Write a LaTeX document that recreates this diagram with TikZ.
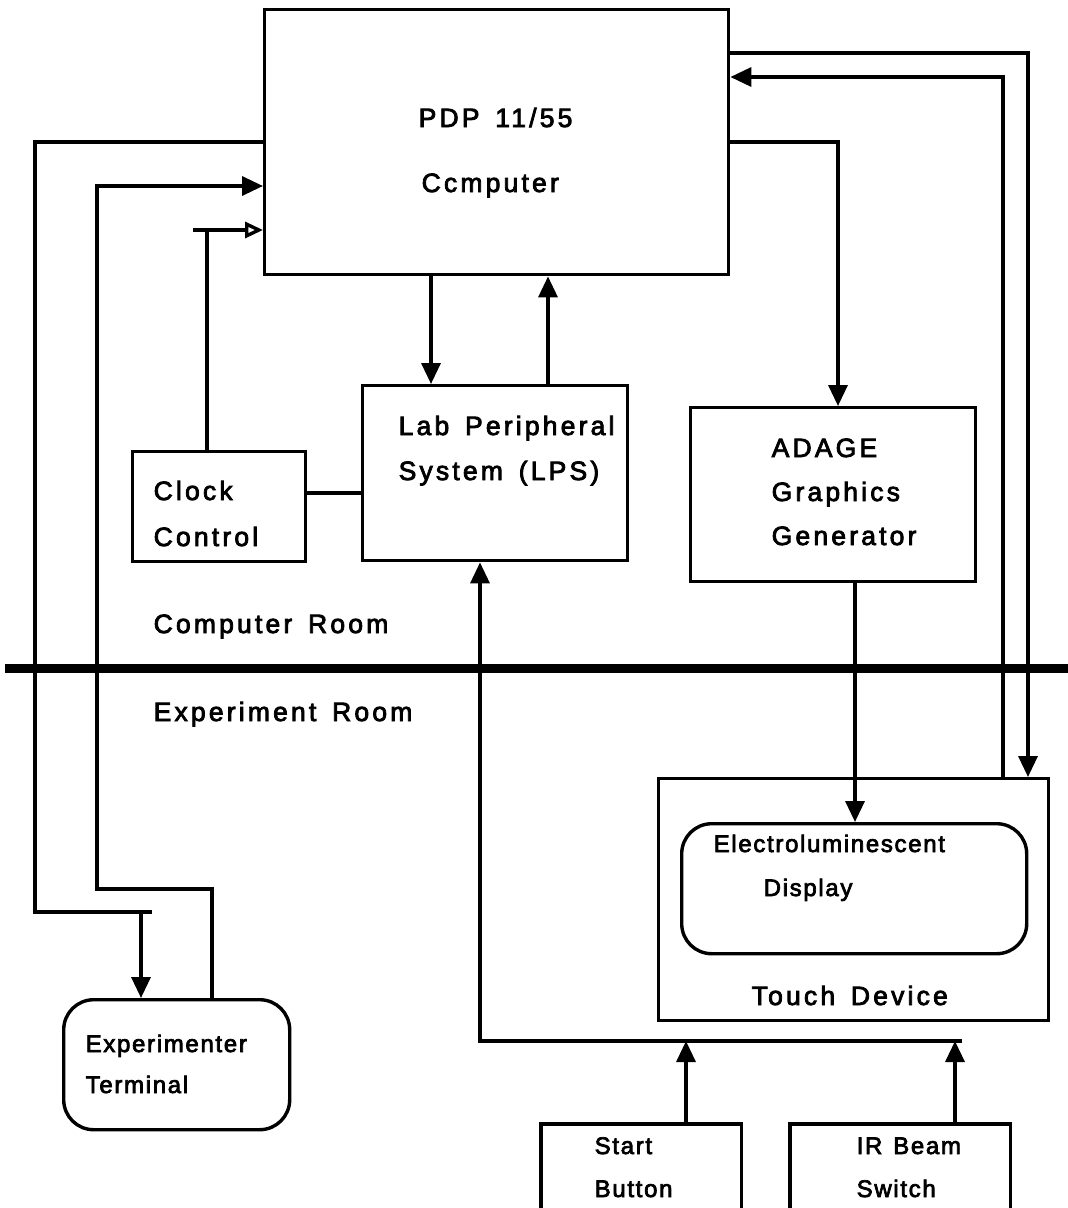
\documentclass[tikz,border=0pt]{standalone}
\usepackage{fontspec}
\setmainfont{Liberation Sans}
\newfontfamily\bigf[LetterSpace=12,WordSpace=1.5,FakeBold=3]{Liberation Sans}
\newfontfamily\smallf[LetterSpace=7,WordSpace=1.3,FakeBold=3]{Liberation Sans}
\usetikzlibrary{arrows.meta}
\begin{document}
\begin{tikzpicture}[x=1pt,y=-1pt,
  line width=3.4pt, line join=miter,
  box/.style={draw, rectangle, inner sep=0pt, anchor=north west},
  rbox/.style={draw, rectangle, rounded corners=30pt, inner sep=0pt, anchor=north west},
  ghost/.style={rectangle, inner sep=0pt, anchor=north west},
  arr/.style={-{Triangle[length=21pt,width=19pt]}},
  oarr/.style={-{Triangle[open,length=18pt,width=16pt]}},
  bigt/.style={anchor=base west, inner sep=0pt, font=\bigf\fontsize{26.5}{30}\selectfont},
  smt/.style={anchor=base west, inner sep=0pt, font=\smallf\fontsize{24}{28}\selectfont},
]
\useasboundingbox (0,0) rectangle (1068,1208);

% boxes
\node[box, minimum width=464pt, minimum height=265pt] (pdp) at (263,8) {};
\node[box, minimum width=265pt, minimum height=175pt] (lps) at (361,384) {};
\node[box, minimum width=173pt, minimum height=110pt] (clock) at (131,450) {};
\node[box, minimum width=285pt, minimum height=174pt] (adage) at (689,406) {};
\node[box, minimum width=390pt, minimum height=242pt] (touch) at (657,777) {};
\node[rbox, minimum width=345pt, minimum height=130pt] (el) at (680,822) {};
\node[rbox, minimum width=226pt, minimum height=130pt] (term) at (62,998) {};
\node[ghost, minimum width=197pt, minimum height=90pt] (start) at (541,1124) {};
\node[ghost, minimum width=217pt, minimum height=90pt] (ir) at (790,1124) {};
\draw (start.south west) -- (start.north west) -- (start.north east) -- (start.south east);
\draw (ir.south west) -- (ir.north west) -- (ir.north east) -- (ir.south east);

% divider
\draw[line width=9pt] (5,668) coordinate (dl) -- (1068,668) coordinate (dr);

% texts
\node[bigt] (t1) at (417,127) {PDP 11/55};
\node[bigt] (t2) at (420,192) {Ccmputer};
\node[bigt] (t3) at (397,435) {Lab Peripheral};
\node[bigt] (t4) at (397,480) {System (LPS)};
\node[bigt] (t5) at (770,457) {ADAGE};
\node[bigt] (t6) at (770,501) {Graphics};
\node[bigt] (t7) at (770,545) {Generator};
\node[bigt] (t8) at (152,500) {Clock};
\node[bigt] (t9) at (152,546) {Control};
\node[bigt] (t10) at (152,633) {Computer Room};
\node[bigt] (t11) at (152,721) {Experiment Room};
\node[smt] (t12) at (712,852) {Electroluminescent};
\node[smt] (t13) at (762,896) {Display};
\node[bigt] (t14) at (750,1005) {Touch Device};
\node[smt] (t15) at (84,1052) {Experimenter};
\node[smt] (t16) at (84,1093) {Terminal};
\node[smt] (t17) at (593,1154) {Start};
\node[smt] (t18) at (593,1197) {Button};
\node[smt] (t19) at (855,1154) {IR Beam};
\node[smt] (t20) at (855,1197) {Switch};

% connectors, left side
\coordinate (j1) at (141,912);
\draw (pdp.west |- 0,142) -| (35,912) -- (152,912);
\draw[arr] (j1) -- (term.north -| j1);
\draw[arr] (term.north -| 212,0) |- (97,889) |- (pdp.west |- 0,186);
\draw (193,230) -- (207,230);
\draw[oarr] (clock.north -| 207,0) |- (pdp.west |- 0,230);
\draw (clock.east |- 0,493) -- (lps.west |- 0,493);

% PDP <-> LPS
\draw[arr] (pdp.south -| 431,0) -- (lps.north -| 431,0);
\draw[arr] (lps.north -| 548,0) -- (pdp.south -| 548,0);

% right side
\draw[arr] (pdp.east |- 0,142) -| (adage.north -| 838,0);
\draw[arr] (adage.south -| 855,0) -- (el.north -| 855,0);
\draw[arr] (pdp.east |- 0,53) -| (touch.north -| 1028,0);
\draw[arr] (touch.north -| 1003,0) |- (pdp.east |- 0,77);

% bottom bus
\coordinate (bus) at (480,1041);
\draw[arr] (962,1041) -- (bus) -- (lps.south -| bus);
\draw[arr] (start.north -| 686,0) -- (686,1041);
\draw[arr] (ir.north -| 955,0) -- (955,1041);
\end{tikzpicture}
\end{document}
